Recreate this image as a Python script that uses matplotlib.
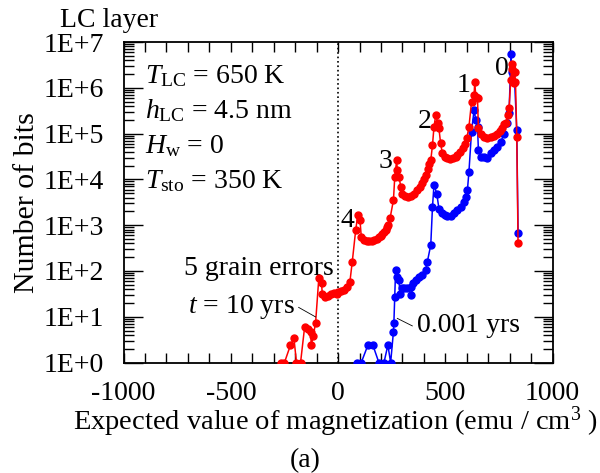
import numpy as np
import matplotlib
matplotlib.use("Agg")
import matplotlib.pyplot as plt
from matplotlib.ticker import FixedLocator, LogLocator, MultipleLocator, FuncFormatter, NullFormatter

plt.rcParams['font.family'] = ['Liberation Serif', 'DejaVu Serif']
plt.rcParams['mathtext.fontset'] = 'custom'
plt.rcParams['mathtext.rm'] = 'Liberation Serif'
plt.rcParams['mathtext.it'] = 'Liberation Serif:italic'
plt.rcParams['axes.unicode_minus'] = False

# t = 10 yrs (red)
red_x = [-268, -250, -222, -206, -194, -175, -156, -141, -128, -125,
         -116, -105, -90, -77, -74, -63, -49, -35, -21, -7,
         -1, 12, 26, 43, 55, 66, 82, 92, 102, 108,
         120, 133, 144, 156, 167, 180, 190, 198, 206, 214,
         222, 229, 234, 242, 258, 264, 273, 276, 284, 292,
         300, 310, 324, 338, 352, 370, 380, 393, 401, 408,
         418, 424, 432, 440, 447, 455, 466, 470, 478, 486,
         497, 510, 523, 537, 548, 556, 567, 580, 590, 600,
         610, 622, 634, 637, 642, 650, 654, 665, 679, 696,
         712, 726, 740, 754, 765, 775, 782, 790, 797, 805,
         809, 812, 814, 819, 823, 827, 833, 839]
red_y = [1, 1, 2.4, 3.4, 1, 1, 6, 5.3, 4.6, 2.4,
         3.8, 7.3, 69, 54, 32, 27, 28, 31, 33, 31,
         35, 36, 38, 45, 58, 158, 780, 1660, 1290, 560,
         470, 450, 455, 460, 470, 500, 540, 580, 640, 710,
         780, 890, 1000, 1400, 3500, 11000, 26000, 16000, 11500, 6900,
         4900, 4300, 4200, 4400, 4800, 5800, 6800, 8200, 10000, 12400,
         16600, 22000, 26000, 56000, 140000, 250000, 167000, 130000, 61000, 37000,
         31000, 29000, 28000, 29000, 31000, 34000, 40000, 48000, 59000, 79000,
         140000, 490000, 690000, 1350000, 630000, 590000, 130000, 100000, 86000, 81000,
         84000, 88000, 98000, 113000, 135000, 161000, 167000, 254000, 355000, 1480000,
         2600000, 3250000, 1350000, 1290000, 2200000, 1350000, 84000, 400]

# t = 0.001 yrs (blue)
blue_x = [90, 108, 139, 162, 190, 214, 232, 245, 258, 260,
          264, 268, 276, 284, 288, 300, 307, 323, 338, 342,
          351, 362, 377, 393, 408, 416, 432, 440, 447, 460,
          470, 486, 498, 510, 525, 540, 556, 572, 586, 595,
          603, 610, 622, 634, 642, 650, 654, 665, 680, 696,
          712, 728, 743, 758, 774, 786, 797, 806, 810, 821,
          833, 839]
blue_y = [1, 1, 2.4, 2.4, 1, 1, 2.4, 1, 4.7, 7.2,
          27, 105, 75, 63, 32, 42, 42, 42, 45, 30,
          54, 63, 75, 81, 105, 158, 370, 2500, 7600, 4900,
          2300, 1800, 1650, 1580, 1580, 1800, 2140, 2500, 3200, 4200,
          5900, 14700, 110000, 330000, 196000, 140000, 44000, 31000, 31000, 30000,
          37000, 43000, 51000, 65000, 100000, 167000, 275000, 5600000, 2240000, 2240000,
          118000, 680]

peak_labels = ['0', '1', '2', '3', '4']
peak_x = [763, 586, 404, 222, 44]
peak_y = [1.89e6, 8.05e5, 1.32e5, 1.78e4, 910]

fig = plt.figure(figsize=(6.0, 4.73), dpi=100)
ax = fig.add_axes([0.206, 0.2336, 0.715, 0.6776])

ax.plot(blue_x, blue_y, '-o', color='#0000ff', lw=1.1, ms=5, zorder=3)
ax.plot(red_x, red_y, '-o', color='#ff0000', lw=1.1, ms=5, zorder=4)
ax.axvline(0, color='black', ls=':', lw=1.2, zorder=2)

ax.set_yscale('log')
ax.set_xlim(-1000, 1000)
ax.set_ylim(1, 1e7)

ax.xaxis.set_major_locator(MultipleLocator(500))
ax.xaxis.set_minor_locator(MultipleLocator(100))
ax.yaxis.set_major_locator(FixedLocator([10.0 ** k for k in range(8)]))
ax.yaxis.set_minor_locator(LogLocator(base=10, subs=np.arange(2, 10), numticks=20))
ax.yaxis.set_major_formatter(FuncFormatter(lambda v, p: '1E+%d' % int(round(np.log10(v)))))
ax.yaxis.set_minor_formatter(NullFormatter())

ax.tick_params(which='both', direction='in', top=True, right=True, width=1.0,
               labelsize=20)
ax.tick_params(axis='x', which='both', length=7, pad=13)
ax.tick_params(axis='y', which='major', length=14, pad=14)
ax.tick_params(axis='y', which='minor', length=7)
for s in ax.spines.values():
    s.set_linewidth(1.3)

for lab, px, py in zip(peak_labels, peak_x, peak_y):
    ax.text(px, py, lab, fontsize=20, ha='center', va='baseline', zorder=5)

params = [r'$T_{\rm LC}$ = 650 K', r'$h_{\rm LC}$ = 4.5 nm',
          r'$H_{\rm w}$ = 0', r'$T_{\rm sto}$ = 350 K']
for i, s in enumerate(params):
    ax.text(0.050, 0.872 - i * 0.1093, s, transform=ax.transAxes,
            fontsize=20, va='baseline', ha='left')

ax.text(0.140, 0.273, '5 grain errors', transform=ax.transAxes,
        fontsize=20, va='baseline', ha='left')
ax.text(0.151, 0.154, r'$t$ = 10 yrs', transform=ax.transAxes,
        fontsize=20, va='baseline', ha='left')
ax.text(0.684, 0.095, '0.001 yrs', transform=ax.transAxes,
        fontsize=20, va='baseline', ha='left')
ax.plot([-184, -105], [16, 9.9], color='black', lw=0.6, zorder=5)
ax.plot([276, 346], [9.2, 6.3], color='black', lw=0.6, zorder=5)

fig.text(0.10, 0.943, 'LC layer', fontsize=20, ha='left', va='baseline')
fig.text(0.56, 0.091, r'Expected value of magnetization (emu / cm$^3$ )',
         fontsize=20.5, ha='center', va='baseline')
fig.text(0.509, 0.013, '(a)', fontsize=20, ha='center', va='baseline')
fig.text(0.045, 0.571, 'Number of bits', fontsize=21.5, rotation=90,
         ha='center', va='center')

fig.savefig('out.png', dpi=100)
